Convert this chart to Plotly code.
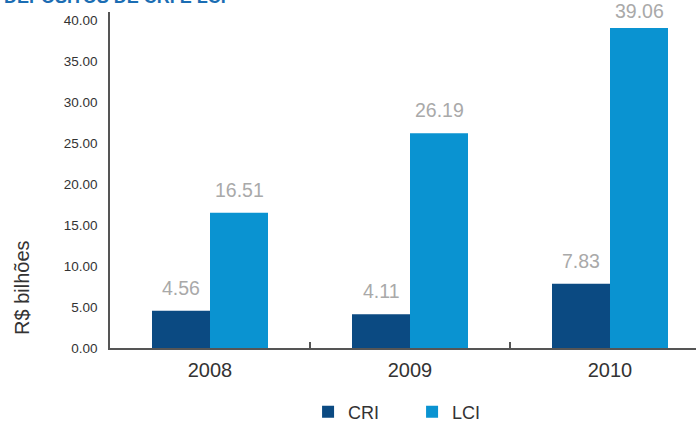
import plotly.graph_objects as go

years = ["2008", "2009", "2010"]
cri = [4.56, 4.11, 7.83]
lci = [16.51, 26.19, 39.06]
y_ticks = [0, 5, 10, 15, 20, 25, 30, 35, 40]

CRI_COLOR = "#0b4a82"
LCI_COLOR = "#0a93d1"
LABEL_GRAY = "#a9a9a9"
FONT = "Liberation Sans, Arial, sans-serif"

Y_MAX = 41
PLOT_TOP, PLOT_H = 12, 336
LABEL_FONT = 19.5
LABEL_BOX_H = 23      # approximate height of one value label, px
LABEL_GAP = 11        # preferred lift of a label above its bar, px

fig = go.Figure()
fig.add_trace(go.Bar(name="CRI", x=years, y=cri, marker_color=CRI_COLOR,
                     marker_line_width=0))
fig.add_trace(go.Bar(name="LCI", x=years, y=lci, marker_color=LCI_COLOR,
                     marker_line_width=0))

# value labels above each bar; a label close to the top edge is lifted less
# so that it stays inside the figure
px_per_unit = PLOT_H / Y_MAX
for series, shift in ((cri, -29), (lci, 29)):
    for i, v in enumerate(series):
        headroom = (Y_MAX - v) * px_per_unit + PLOT_TOP - LABEL_BOX_H
        lift = max(0, min(LABEL_GAP, headroom))
        fig.add_annotation(x=i, y=v, xref="x", yref="y", text=f"{v:.2f}",
                           showarrow=False, xshift=shift, yshift=lift,
                           xanchor="center", yanchor="bottom", borderpad=0,
                           font=dict(family=FONT, size=LABEL_FONT,
                                     color=LABEL_GRAY))

# heading (clipped at the top edge)
fig.add_annotation(xref="paper", yref="paper", x=-0.185, y=1.0,
                   xanchor="left", yanchor="bottom", yshift=3,
                   text="<b>DEPÓSITOS DE CRI E LCI</b>", showarrow=False,
                   font=dict(family=FONT, size=18, color="#1b6db3"))

# vertical axis caption
fig.add_annotation(xref="paper", yref="paper", x=-0.150, y=0.179,
                   xanchor="center", yanchor="middle",
                   text="R$ bilhões", textangle=-90, showarrow=False,
                   font=dict(family=FONT, size=20, color="#333333"))

fig.update_layout(
    width=696, height=423,
    margin=dict(l=110, r=0, t=PLOT_TOP, b=423 - PLOT_TOP - PLOT_H,
                autoexpand=False),
    paper_bgcolor="white", plot_bgcolor="white",
    barmode="group", bargap=0.42, bargroupgap=0,
    font=dict(family=FONT, color="#333333"),
    legend=dict(orientation="h", x=0.338, y=0.026, yref="container",
                xanchor="left", yanchor="middle",
                font=dict(size=18, color="#333333"),
                entrywidth=59, entrywidthmode="pixels", itemwidth=30),
    xaxis=dict(type="category", range=[-0.5, 2.43], showline=True,
               linecolor="#555555", linewidth=1.5, ticks="inside",
               tickson="boundaries", ticklen=6, tickcolor="#555555",
               tickwidth=1.5, showgrid=False, automargin=False,
               ticklabelstandoff=3,
               tickfont=dict(size=20, color="#333333")),
    yaxis=dict(range=[0, Y_MAX], tickvals=y_ticks,
               ticktext=[f"{t:.2f}" for t in y_ticks], showline=True,
               linecolor="#555555", linewidth=1.5, showgrid=False,
               zeroline=False, ticks="", ticklabelstandoff=8,
               automargin=False,
               tickfont=dict(size=13.5, color="#333333")),
)

fig.write_html("out.html")
